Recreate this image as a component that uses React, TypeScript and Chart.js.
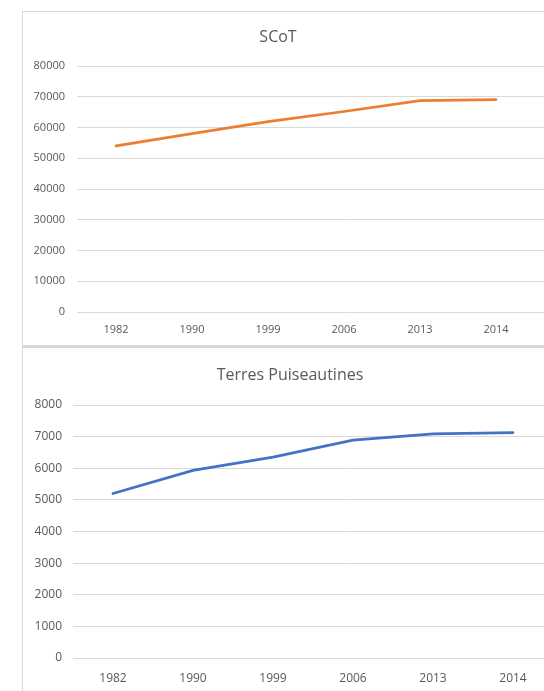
import React, { useEffect, useRef } from "react";
import { Chart, registerables } from "chart.js";

Chart.register(...registerables);

const years = ["1982", "1990", "1999", "2006", "2013", "2014"];
const scotValues = [54000, 58000, 61900, 65200, 68700, 69100];
const terresValues = [5200, 5930, 6350, 6890, 7090, 7130];
const scotTitle = "SCoT";
const terresTitle = "Terres Puiseautines";

const GRID = "#d9d9d9";
const TEXT = "#595959";
const FONT = "'Open Sans', 'Noto Sans', sans-serif";

const titlePlugin = {
  id: "panelTitle",
  afterDraw(chart: any, _args: any, opts: any) {
    const ctx = chart.ctx;
    ctx.save();
    ctx.font = `${opts.size}px ${FONT}`;
    ctx.fillStyle = TEXT;
    ctx.textAlign = "center";
    ctx.textBaseline = "middle";
    ctx.fillText(opts.text, opts.x, opts.y);
    ctx.restore();
  },
};

type Cfg = {
  title: string;
  values: number[];
  color: string;
  yMax: number;
  yStep: number;
  xMin: number;
  xMax: number;
  yWidth: number;
  yPad: number;
  xPad: number;
  topPad: number;
  fontSize: number;
  titleX: number;
  titleY: number;
};

function LineChart({ cfg, width, height }: { cfg: Cfg; width: number; height: number }) {
  const ref = useRef<HTMLCanvasElement | null>(null);
  useEffect(() => {
    if (!ref.current) return;
    const chart = new Chart(ref.current, {
      type: "line",
      data: {
        datasets: [
          {
            data: cfg.values.map((v, i) => ({ x: i, y: v })),
            borderColor: cfg.color,
            backgroundColor: cfg.color,
            borderWidth: 2.75,
            pointRadius: 0,
            tension: 0,
            borderCapStyle: "round",
            fill: false,
          },
        ],
      },
      options: {
        animation: false,
        responsive: false,
        maintainAspectRatio: false,
        layout: { padding: { top: cfg.topPad, left: 0, right: 0, bottom: 0 } },
        plugins: {
          legend: { display: false },
          title: { display: false },
          tooltip: { enabled: false },
          panelTitle: { text: cfg.title, x: cfg.titleX, y: cfg.titleY, size: 16 },
        } as any,
        scales: {
          x: {
            type: "linear",
            min: cfg.xMin,
            max: cfg.xMax,
            grid: { display: false },
            border: { display: false },
            afterBuildTicks: (scale: any) => {
              scale.ticks = years.map((_, i) => ({ value: i }));
            },
            afterFit: (scale: any) => {
              scale.height = 33;
            },
            ticks: {
              autoSkip: false,
              maxRotation: 0,
              padding: cfg.xPad,
              color: TEXT,
              font: { size: cfg.fontSize, family: FONT },
              callback: (v: any) => years[v as number] ?? "",
            },
          },
          y: {
            min: 0,
            max: cfg.yMax,
            grid: { color: GRID, lineWidth: 1, drawTicks: false },
            border: { display: false },
            afterFit: (scale: any) => {
              scale.width = cfg.yWidth;
            },
            ticks: {
              stepSize: cfg.yStep,
              padding: cfg.yPad,
              color: TEXT,
              font: { size: cfg.fontSize, family: FONT },
              callback: (v: any) => String(v),
            },
          },
        },
      },
      plugins: [titlePlugin],
    });
    return () => chart.destroy();
  }, []);
  return <canvas ref={ref} width={width} height={height} style={{ display: "block" }} />;
}

export default function App() {
  const topCfg: Cfg = {
    title: scotTitle,
    values: scotValues,
    color: "#ED7D31",
    yMax: 80000,
    yStep: 10000,
    xMin: -0.513,
    xMax: 6.658,
    yWidth: 55,
    yPad: 12,
    xPad: 3,
    topPad: 54,
    fontSize: 11,
    titleX: 256,
    titleY: 25,
  };
  const bottomCfg: Cfg = {
    title: terresTitle,
    values: terresValues,
    color: "#4472C4",
    yMax: 8000,
    yStep: 1000,
    xMin: -0.5,
    xMax: 6.3625,
    yWidth: 51,
    yPad: 11,
    xPad: 5,
    topPad: 57,
    fontSize: 12,
    titleX: 268,
    titleY: 27,
  };
  return (
    <div
      style={{
        position: "absolute",
        left: 0,
        top: 0,
        width: 544,
        height: 691,
        overflow: "hidden",
        background: "#fff",
      }}
    >
      <div style={{ position: "absolute", left: 22, top: 11, width: 600, height: 1, background: GRID }} />
      <div style={{ position: "absolute", left: 22, top: 11, width: 1, height: 680, background: GRID }} />
      <div style={{ position: "absolute", left: 22, top: 345, width: 600, height: 3, background: GRID }} />
      <div style={{ position: "absolute", left: 22, top: 12 }}>
        <LineChart cfg={topCfg} width={600} height={333} />
      </div>
      <div style={{ position: "absolute", left: 22, top: 348 }}>
        <LineChart cfg={bottomCfg} width={600} height={343} />
      </div>
    </div>
  );
}
